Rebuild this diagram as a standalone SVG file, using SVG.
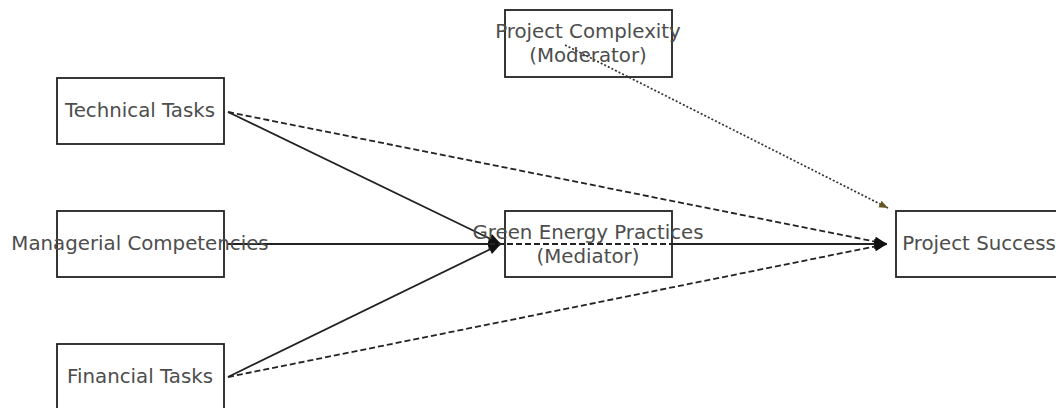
<svg xmlns="http://www.w3.org/2000/svg" width="1056" height="408" viewBox="0 0 1056 408">
<style>
.box{fill:#fff;stroke:#222;stroke-width:1.8}
.lbl{font-family:"DejaVu Sans",sans-serif;font-size:19.8px;fill:#4d4d4d;text-anchor:middle;dominant-baseline:central}
.solid{stroke:#222;stroke-width:1.8;fill:none}
.dash{stroke:#222;stroke-width:1.8;fill:none;stroke-dasharray:6,3}
.dot{stroke:#333;stroke-width:1.7;fill:none;stroke-dasharray:2,2}
</style>
<defs>
<marker id="ah" viewBox="0 0 10 8" refX="10" refY="4" markerWidth="13" markerHeight="10" markerUnits="userSpaceOnUse" orient="auto">
<path d="M0,0 L10,4 L0,8 Z" fill="#111"/>
</marker>
<marker id="ahs" viewBox="0 0 10 8" refX="10" refY="4" markerWidth="9" markerHeight="8" markerUnits="userSpaceOnUse" orient="auto">
<path d="M0,0 L10,4 L0,8 Z" fill="#665522"/>
</marker>
</defs>
<g id="node-technical"><rect class="box" x="57" y="78" width="167" height="66"/></g>
<g id="node-managerial"><rect class="box" x="57" y="211" width="167" height="66"/></g>
<g id="node-financial"><rect class="box" x="57" y="344" width="167" height="66"/></g>
<g id="node-complexity"><rect class="box" x="505" y="10" width="167" height="67"/></g>
<g id="node-green"><rect class="box" x="505" y="211" width="167" height="66"/></g>
<g id="node-success"><rect class="box" x="896" y="211" width="167" height="66"/></g>
<g id="connectors">
<line class="solid" x1="228" y1="112" x2="501" y2="244" marker-end="url(#ah)"/>
<line class="solid" x1="228" y1="244" x2="501" y2="244" marker-end="url(#ah)"/>
<line class="solid" x1="228" y1="377" x2="501" y2="244" marker-end="url(#ah)"/>
<line class="dash" x1="228" y1="112" x2="887" y2="244" marker-end="url(#ah)"/>
<line class="dash" x1="228" y1="244" x2="887" y2="244" marker-end="url(#ah)"/>
<line class="dash" x1="228" y1="377" x2="887" y2="244" marker-end="url(#ah)"/>
<line class="solid" x1="672" y1="244" x2="887" y2="244" marker-end="url(#ah)"/>
<line class="dot" x1="565" y1="45" x2="888" y2="208" marker-end="url(#ahs)"/>
</g>
<g id="labels">
<text class="lbl" x="140" y="110">Technical Tasks</text>
<text class="lbl" x="140" y="243">Managerial Competencies</text>
<text class="lbl" x="140" y="376">Financial Tasks</text>
<text class="lbl" x="588" y="31">Project Complexity</text>
<text class="lbl" x="588" y="55">(Moderator)</text>
<text class="lbl" x="588" y="232">Green Energy Practices</text>
<text class="lbl" x="588" y="256">(Mediator)</text>
<text class="lbl" x="979" y="243">Project Success</text>
</g>
</svg>
